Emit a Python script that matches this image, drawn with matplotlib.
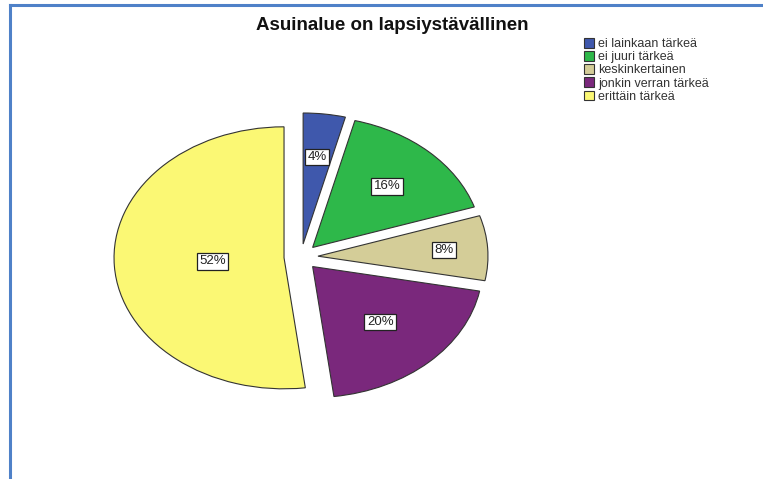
import matplotlib
matplotlib.use("Agg")
import matplotlib.pyplot as plt
import numpy as np
from matplotlib.lines import Line2D
from matplotlib.patches import Patch

categories = ["ei lainkaan tärkeä", "ei juuri tärkeä", "keskinkertainen",
              "jonkin verran tärkeä", "erittäin tärkeä"]
values = [4, 16, 8, 20, 52]
labels = ["4%", "16%", "8%", "20%", "52%"]
colors = ["#3F58AC", "#2EB84A", "#D4CD98", "#7A287C", "#FBF874"]
label_radius = [0.77, 0.74, 0.84, 0.68, 0.52]

plt.rcParams['font.family'] = ['Liberation Sans', 'DejaVu Sans']

W, H = 763, 479
fig = plt.figure(figsize=(W / 100, H / 100), dpi=100)
fig.patch.set_facecolor("white")

# border lines
fig.add_artist(Line2D([10 / W, 1.0], [1 - 5 / H, 1 - 5 / H], color="#4F81C8", lw=2.2,
                      transform=fig.transFigure))
fig.add_artist(Line2D([10 / W, 10 / W], [1 - 5 / H, 0], color="#4F81C8", lw=2.2,
                      transform=fig.transFigure))

cx, cy, rx, ry = 301, 257, 170, 131
lim = 1.3
ax_w = 2 * lim * rx
ax_h = 2 * lim * ry
ax = fig.add_axes([(cx - ax_w / 2) / W, (H - cy - ax_h / 2) / H, ax_w / W, ax_h / H])
wedges, _ = ax.pie(values, colors=colors, startangle=90, counterclock=False,
                   explode=[0.1] * len(values),
                   wedgeprops=dict(edgecolor="#333333", linewidth=0.8))
ax.set_aspect("auto")
ax.set_xlim(-lim, lim)
ax.set_ylim(-lim, lim)
ax.axis("off")

cum = np.cumsum([0] + values[:-1])
total = sum(values)
for v, c0, lab, r in zip(values, cum, labels, label_radius):
    mid = (c0 + v / 2) / total * 360
    ang = np.deg2rad(90 - mid)
    ax.text(r * np.cos(ang), r * np.sin(ang), lab, ha="center", va="center",
            fontsize=9.5, color="#222222",
            bbox=dict(boxstyle="square,pad=0.18", facecolor="white",
                      edgecolor="#222222", linewidth=0.9))

fig.text(392 / W, 1 - 25 / H, "Asuinalue on lapsiystävällinen", ha="center", va="center",
         fontsize=13.5, fontweight="bold", color="#111111")

handles = [Patch(facecolor=c, edgecolor="#333333", linewidth=0.8) for c in colors]
fig.legend(handles, categories, loc="upper left", bbox_to_anchor=(584 / W, 1 - 38 / H),
           frameon=False, fontsize=9, handlelength=0.8, handleheight=0.8,
           handletextpad=0.35, labelspacing=0.08, borderpad=0, borderaxespad=0,
           labelcolor="#333333")

fig.savefig("out.png", dpi=100, facecolor="white")
